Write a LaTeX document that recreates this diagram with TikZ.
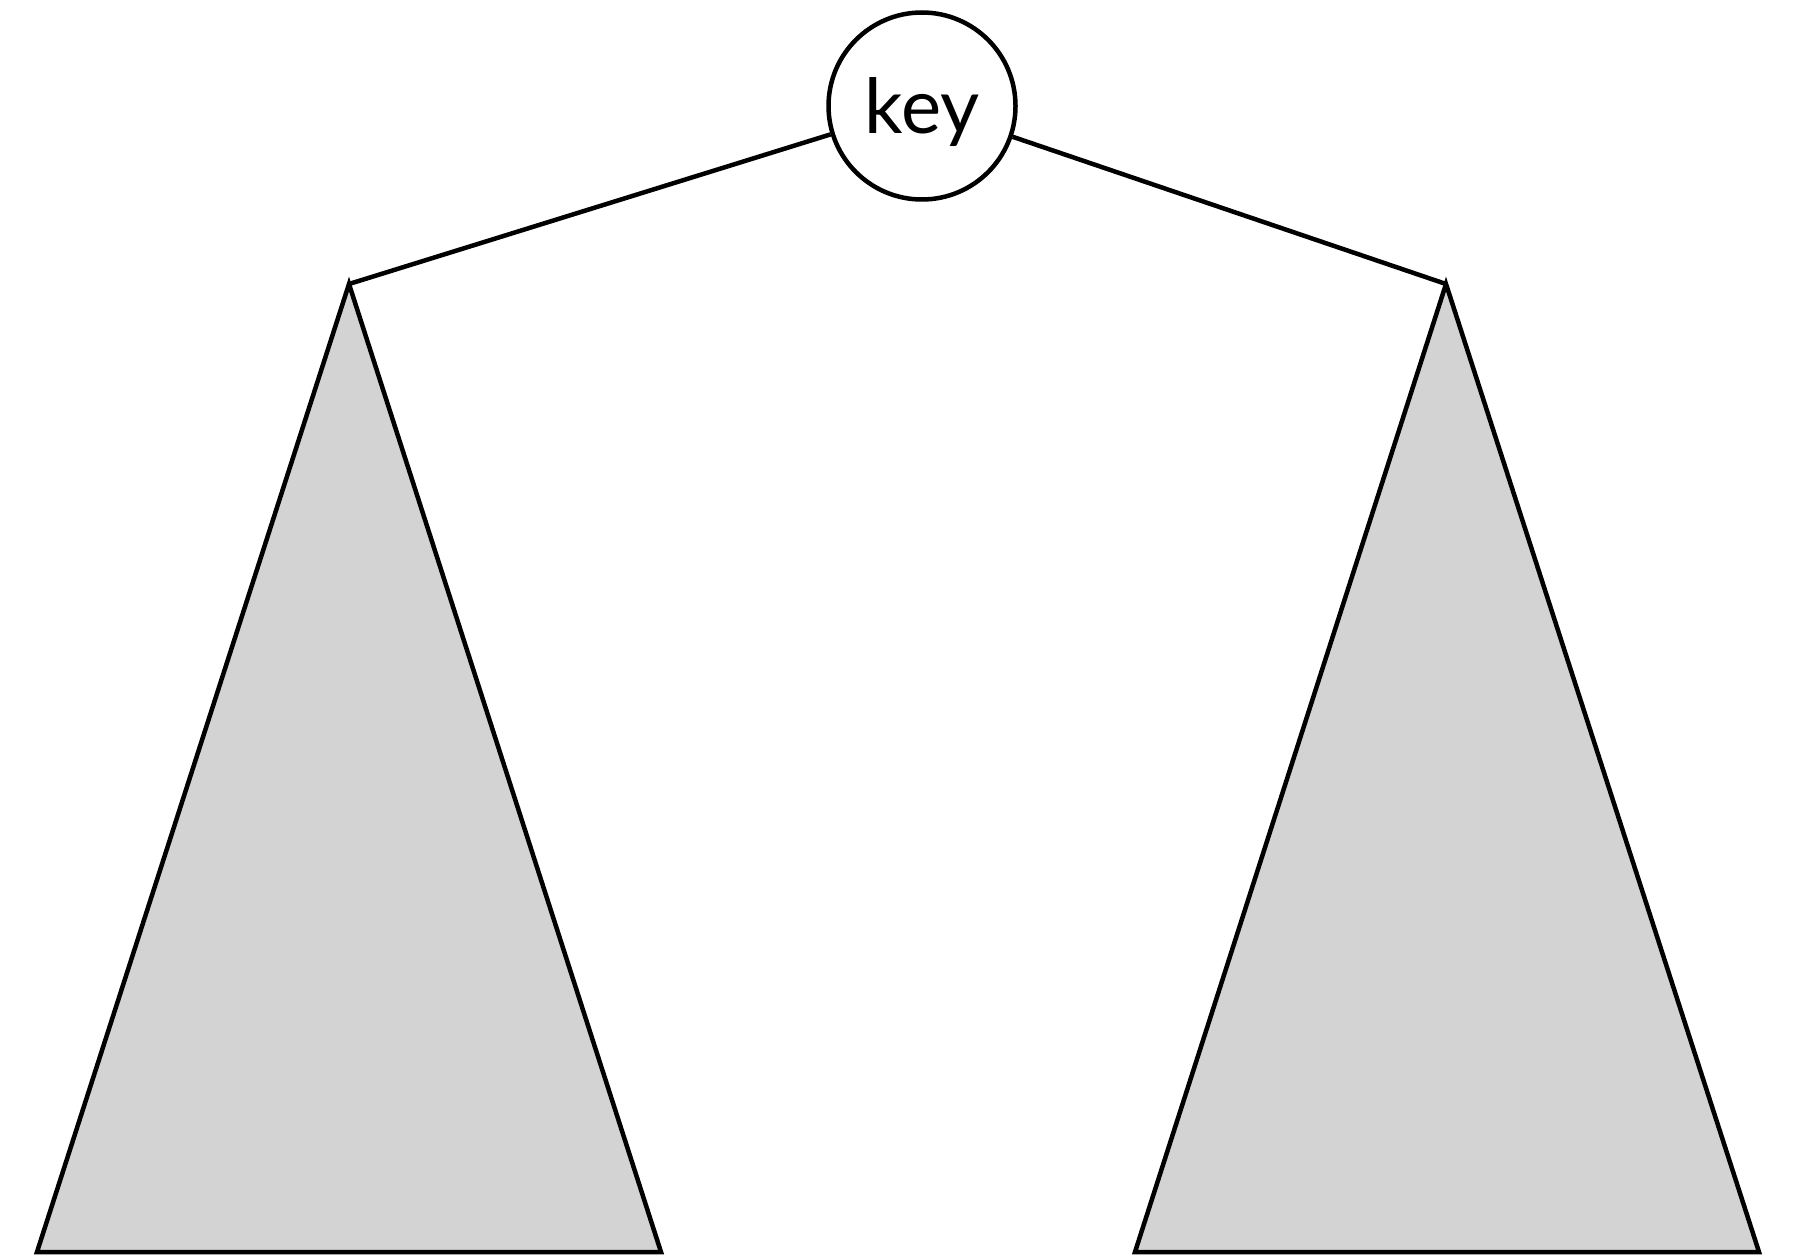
\documentclass[tikz,border=0pt]{standalone}
\usepackage{fontspec}
\setmainfont{Lato}
\usepackage{xcolor}
\usetikzlibrary{positioning, calc}
\definecolor{subfill}{RGB}{211,211,211}
\tikzset{
  keynode/.style = {circle, draw, line width=4.5pt, minimum size=187pt,
                    inner sep=0pt, text depth=0pt,
                    font=\fontsize{76}{80}\selectfont},
  subtree/.style = {draw, line width=4.5pt, fill=subfill, line join=miter},
  link/.style    = {line width=4.5pt},
}
\begin{document}
\begin{tikzpicture}[x=1pt, y=-1pt]
  \useasboundingbox (0,0) rectangle (1803,1257);
  \node[keynode] (key) at (922,106) {key};

  % left subtree
  \coordinate (ltop) at (349,284);
  \coordinate (lbl) at (37,1252);
  \coordinate (lbr) at (661,1252);
  % right subtree
  \coordinate (rtop) at (1446,284);
  \coordinate (rbl) at (1135,1252);
  \coordinate (rbr) at (1759,1252);

  \draw[subtree] (ltop) -- (lbl) -- (lbr) -- cycle;
  \draw[subtree] (rtop) -- (rbl) -- (rbr) -- cycle;

  \draw[link] (key) -- (ltop);
  \draw[link] (key) -- (rtop);
\end{tikzpicture}
\end{document}
